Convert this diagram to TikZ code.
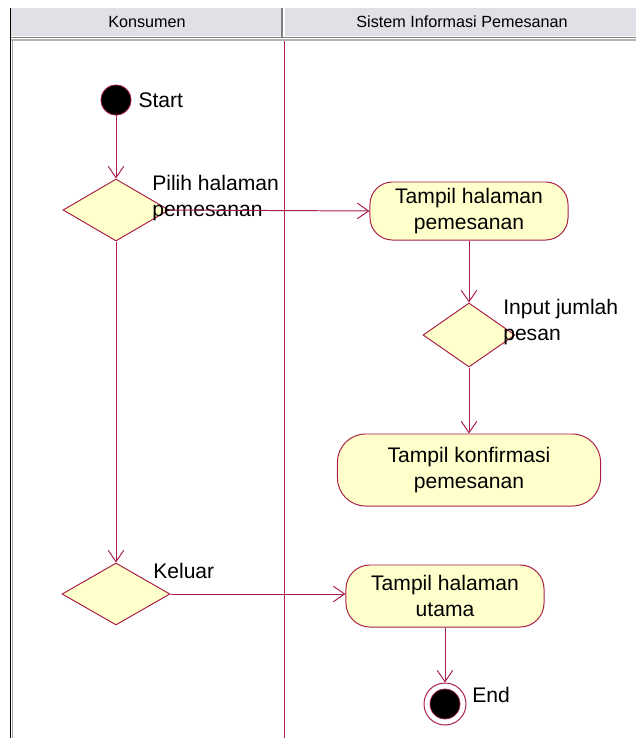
\documentclass[tikz,border=0pt]{standalone}
\usepackage{fontspec}
\setmainfont{Liberation Sans}
\usetikzlibrary{shapes.geometric,arrows.meta,positioning}

\definecolor{umlred}{RGB}{168,32,72}
\definecolor{umlfill}{RGB}{255,255,204}
\definecolor{headgray}{RGB}{224,224,230}

\begin{document}
\begin{tikzpicture}[
    x=0.025cm, y=-0.025cm,
    font=\fontsize{15}{18.5}\selectfont,
    flow/.style={draw=umlred, line width=0.7pt, -{Straight Barb[length=8pt,width=11pt]}},
    act_box/.style={draw=umlred, fill=umlfill, line width=0.7pt, rectangle, rounded corners=16pt, align=center, inner sep=0pt},
    decision/.style={draw=umlred, fill=umlfill, line width=0.7pt, diamond, inner sep=0pt},
    lbl/.style={inner sep=0pt, align=left},
    lane_head/.style={font=\fontsize{11.5}{13}\selectfont, inner sep=0pt}
]
\useasboundingbox (0,0) rectangle (636,738);

\fill[headgray] (11,8) rectangle (636,36);
\draw[gray, line width=1.2pt] (11,37.5) -- (636,37.5);
\draw[gray!60, line width=1.2pt] (11,40) -- (636,40);
\draw[gray, line width=0.8pt] (282,8) -- (282,37);
\draw[white, line width=0.8pt] (284,8) -- (284,37);
\draw[black, line width=0.8pt] (10.5,8) -- (10.5,738);
\draw[gray!70, line width=0.8pt] (12.5,40) -- (12.5,738);

\node[lane_head] (konsumen) at (147,22) {Konsumen};
\node[lane_head] (sistem) at (462,22) {Sistem Informasi Pemesanan};

\coordinate (laneTop) at (284,41);
\coordinate (laneBot) at (284,738);
\draw[umlred, line width=0.7pt] (laneTop) -- (laneBot);

\node[circle, draw=umlred, fill=black, line width=0.6pt, minimum size=0.75cm, inner sep=0pt] (start) at (116,100) {};
\node[lbl, right=0.17cm of start] (startLbl) {Start};

\node[decision, minimum width=2.65cm, minimum height=1.55cm] (pilih) at (116,210) {};
\node[lbl, anchor=west] (pilihLbl) at (152,198) {Pilih halaman\\pemesanan};

\node[act_box, minimum width=4.95cm, minimum height=1.45cm] (tampil1) at (469,211) {Tampil halaman\\pemesanan};

\node[decision, minimum width=2.3cm, minimum height=1.6cm] (input) at (469,335) {};
\node[lbl, anchor=west] (inputLbl) at (503,322) {Input jumlah\\pesan};

\node[act_box, rounded corners=20pt, minimum width=6.575cm, minimum height=1.8cm] (konfirm) at (469,470) {Tampil konfirmasi\\pemesanan};

\node[decision, minimum width=2.7cm, minimum height=1.55cm] (keluar) at (116,594) {};
\node[lbl, anchor=west] (keluarLbl) at (153,571) {Keluar};

\node[act_box, rounded corners=17pt, minimum width=4.95cm, minimum height=1.55cm] (utama) at (445,596) {Tampil halaman\\utama};

\node[circle, draw=umlred, fill=white, line width=0.7pt, minimum size=1.05cm, inner sep=0pt] (end) at (445,704) {};
\node[circle, draw=umlred, fill=black, line width=0.5pt, minimum size=0.75cm, inner sep=0pt] (endDot) at (end.center) {};
\node[lbl, anchor=west] (endLbl) at (472,695) {End};

\draw[flow] (start) -- (pilih);
\draw[flow] (pilih.east) -- (tampil1.west);
\draw[flow] (tampil1) -- (input);
\draw[flow] (input) -- (konfirm);
\draw[flow] (pilih) -- (keluar);
\draw[flow] (keluar.east) -- (utama.west |- keluar.east);
\draw[flow] (utama) -- (end);

\end{tikzpicture}
\end{document}
